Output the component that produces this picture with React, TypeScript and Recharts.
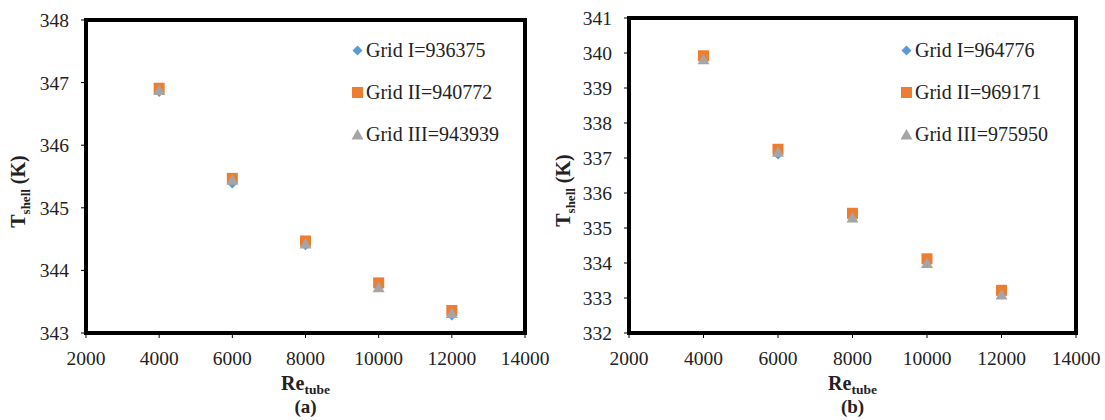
import { ScatterChart, Scatter, XAxis, YAxis, ReferenceArea } from "recharts";

const reTube = [4000, 6000, 8000, 10000, 12000];
const xTicks = [2000, 4000, 6000, 8000, 10000, 12000, 14000];

// panel (a)
const aGrid1 = [346.85, 345.39, 344.4, 343.74, 343.28];
const aGrid2 = [346.91, 345.47, 344.47, 343.8, 343.36];
const aGrid3 = [346.88, 345.45, 344.43, 343.73, 343.32];
const aNames = ["Grid I=936375", "Grid II=940772", "Grid III=943939"];
const aTicks = [343, 344, 345, 346, 347, 348];

// panel (b)
const bGrid1 = [339.86, 337.1, 335.3, 334.02, 333.1];
const bGrid2 = [339.92, 337.25, 335.42, 334.12, 333.22];
const bGrid3 = [339.82, 337.18, 335.3, 334.0, 333.1];
const bNames = ["Grid I=964776", "Grid II=969171", "Grid III=975950"];
const bTicks = [332, 333, 334, 335, 336, 337, 338, 339, 340, 341];

const COLORS = ["#5B9BD5", "#ED7D31", "#A5A5A5"];
const FONT = "Liberation Serif, Tinos, Times New Roman, serif";

const toPoints = (ys: number[]) => reTube.map((x, i) => ({ x, y: ys[i] }));

function Marker({ kind, cx, cy, fill }: { kind: number; cx: number; cy: number; fill: string }) {
  if (kind === 0) {
    const r = 5;
    return <polygon points={`${cx},${cy - r} ${cx + r},${cy} ${cx},${cy + r} ${cx - r},${cy}`} fill={fill} />;
  }
  if (kind === 1) {
    return <rect x={cx - 5.5} y={cy - 5.5} width={11} height={11} fill={fill} />;
  }
  return <polygon points={`${cx},${cy - 5.5} ${cx + 6},${cy + 5} ${cx - 6},${cy + 5}`} fill={fill} />;
}

const tickStyle = { fill: "#222", fontSize: 19.5, fontFamily: FONT, style: { fontFamily: FONT } };

function YLabel(props: any) {
  const vb = props.viewBox || {};
  const x = (vb.x ?? 0) + 25;
  const y = (vb.y ?? 0) + (vb.height ?? 0) / 2 + 15;
  return (
    <text x={x} y={y} transform={`rotate(-90, ${x}, ${y})`} textAnchor="middle" style={{ fontFamily: FONT }} fontWeight="bold" fontSize={20} fill="#222">
      <tspan>T</tspan>
      <tspan fontSize={13} dy={5}>shell</tspan>
      <tspan dy={-5}> (K)</tspan>
    </text>
  );
}

function XLabel(tag: string) {
  return (props: any) => {
    const vb = props.viewBox || {};
    const cx = (vb.x ?? 0) + (vb.width ?? 0) / 2;
    const top = vb.y ?? 0;
    return (
      <g style={{ fontFamily: FONT }} fontWeight="bold" fill="#222">
        <text x={cx} y={top + 57} textAnchor="middle" fontSize={20}>
          <tspan>Re</tspan>
          <tspan fontSize={13.5} dy={4}>tube</tspan>
        </text>
        <text x={cx} y={top + 80} textAnchor="middle" fontSize={19}>{tag}</text>
      </g>
    );
  };
}

function LegendBox({ names, left }: { names: string[]; left: number }) {
  return (
    <div style={{ position: "absolute", left, top: 29, fontFamily: FONT, fontSize: 20, color: "#222" }}>
      {names.map((n, i) => (
        <div key={n} style={{ display: "flex", alignItems: "center", height: 42, whiteSpace: "nowrap" }}>
          <svg width={13} height={13} style={{ marginRight: 2 }}>
            <Marker kind={i} cx={6.5} cy={6.5} fill={COLORS[i]} />
          </svg>
          <span>{n}</span>
        </div>
      ))}
    </div>
  );
}

function Panel({ series, names, ticks, width, yWidth, right, top, bottom, tag }: any) {
  const lo = ticks[0];
  const hi = ticks[ticks.length - 1];
  return (
    <ScatterChart width={width} height={420} margin={{ top, right, bottom: 0, left: 0 }}>
      <XAxis
        type="number" dataKey="x" domain={[2000, 14000]} ticks={xTicks} interval={0} allowDataOverflow
        height={420 - bottom} tick={tickStyle} tickSize={5} tickMargin={13}
        axisLine={{ stroke: "#000", strokeWidth: 2 }} tickLine={{ stroke: "#000" }}
        label={XLabel(tag)}
      />
      <YAxis
        type="number" dataKey="y" domain={[lo, hi]} ticks={ticks} interval={0} allowDataOverflow
        width={yWidth} tick={tickStyle} tickSize={5} tickMargin={12}
        axisLine={{ stroke: "#000", strokeWidth: 2 }} tickLine={{ stroke: "#000" }}
        label={YLabel}
      />
      <ReferenceArea x1={2000} x2={14000} y1={lo} y2={hi} fill="none" stroke="#000" strokeWidth={4} fillOpacity={0} ifOverflow="visible" />
      {series.map((s: number[], i: number) => (
        <Scatter
          key={names[i]} name={names[i]} data={toPoints(s)} fill={COLORS[i]} isAnimationActive={false}
          shape={(p: any) => <Marker kind={i} cx={p.cx} cy={p.cy} fill={COLORS[i]} />}
        />
      ))}
    </ScatterChart>
  );
}

export default function App() {
  return (
    <div style={{ position: "absolute", left: 0, top: 0, width: 1105, height: 420, background: "#fff", overflow: "hidden" }}>
      <div style={{ position: "absolute", left: 0, top: 0 }}>
        <Panel
          series={[aGrid1, aGrid2, aGrid3]} names={aNames} ticks={aTicks}
          width={560} yWidth={86} right={35} top={20} bottom={333} tag="(a)"
        />
        <LegendBox names={aNames} left={351} />
      </div>
      <div style={{ position: "absolute", left: 545, top: 0 }}>
        <Panel
          series={[bGrid1, bGrid2, bGrid3]} names={bNames} ticks={bTicks}
          width={560} yWidth={84} right={29} top={18} bottom={333} tag="(b)"
        />
        <LegendBox names={bNames} left={355} />
      </div>
    </div>
  );
}
